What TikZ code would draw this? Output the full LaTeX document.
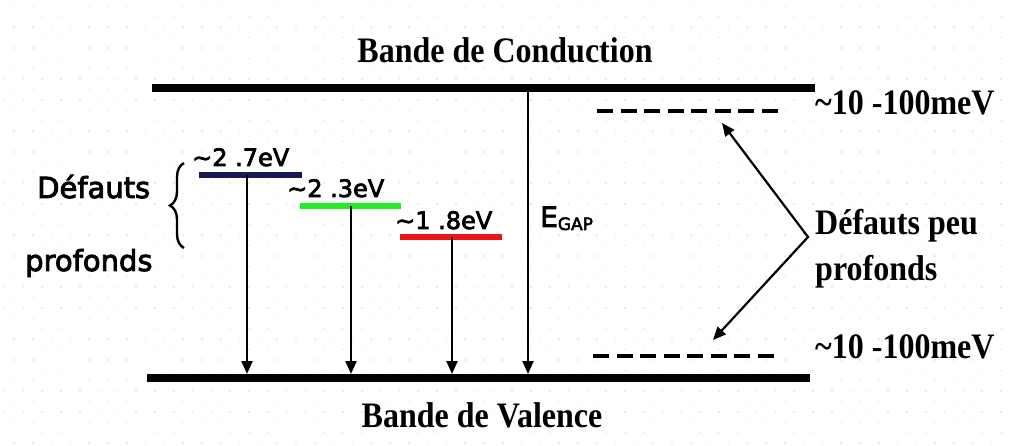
\documentclass[tikz,border=0pt]{standalone}
\usepackage{fontspec}
\setmainfont{Liberation Serif}
\newfontfamily\sansf[FakeBold=3]{DejaVu Sans}
\usetikzlibrary{arrows.meta,decorations.pathreplacing}
\definecolor{dotc}{RGB}{234,246,170}
\definecolor{navyc}{RGB}{24,24,84}
\definecolor{greenc}{RGB}{34,236,34}
\definecolor{redc}{RGB}{236,20,20}
\newcommand{\tallb}[1]{\scalebox{1}[1.12]{#1}}
\tikzset{
  band/.style={line width=8pt},
  level/.style={line width=6.5pt},
  arr/.style={line width=2.2pt,-{Triangle[length=13pt,width=11pt]}},
  darr/.style={line width=2.2pt,{Triangle[length=13pt,width=11pt]}-{Triangle[length=13pt,width=11pt]}},
  shallow/.style={line width=4pt,dash pattern=on 16pt off 7.5pt},
  serif/.style={font=\fontsize{32}{34}\selectfont\bfseries,inner sep=0pt,anchor=base west},
  lab/.style={font=\sansf\fontsize{24}{26}\selectfont,inner sep=0pt,anchor=base west},
  sanslab/.style={font=\sansf\fontsize{29}{31}\selectfont,inner sep=0pt,anchor=base west},
}
\begin{document}
\begin{tikzpicture}[x=1pt,y=-1pt]
\useasboundingbox (0,0) rectangle (1009,446);
\fill[white] (0,0) rectangle (1009,446);
% faint dotted background
\foreach \i in {0,...,43}{
  \pgfmathsetmacro{\yy}{6.3+10.4*\i}
  \pgfmathsetmacro{\off}{mod(\i,2)==0 ? 9.4 : 0}
  \foreach \j in {0,...,54}{
    \fill[dotc] ({4.6+\off+18.8*\j-0.75},{\yy-0.75}) rectangle ++(1.5,1.5);
  }
}
% bands
\coordinate (cbL) at (152,88);
\coordinate (cbR) at (815,88);
\coordinate (vbL) at (147,378);
\coordinate (vbR) at (810,378);
\draw[band] (cbL) -- (cbR);
\draw[band] (vbL) -- (vbR);
\node[serif,anchor=base] (cbt) at (505,63) {\tallb{Bande de Conduction}};
\node[serif,anchor=base] (vbt) at (482,427) {\tallb{Bande de Valence}};
% deep levels
\coordinate (l1L) at (199,175); \coordinate (l1R) at (302,175);
\coordinate (l2L) at (300,206); \coordinate (l2R) at (401,206);
\coordinate (l3L) at (400,237); \coordinate (l3R) at (502,237);
\draw[level,navyc] (l1L) -- (l1R);
\draw[level,greenc] (l2L) -- (l2R);
\draw[level,redc] (l3L) -- (l3R);
\node[lab] (t1) at (192,166) {\textasciitilde2 .7eV};
\node[lab] (t2) at (287,197) {\textasciitilde2 .3eV};
\node[lab] (t3) at (395,229) {\textasciitilde1 .8eV};
% transitions
\coordinate (a1) at (247,175); \coordinate (b1) at (247,374);
\coordinate (a2) at (351,206); \coordinate (b2) at (351,374);
\coordinate (a3) at (452,237); \coordinate (b3) at (452,374);
\coordinate (ag) at (528,92);  \coordinate (bg) at (528,374);
\draw[arr] (a1) -- (b1);
\draw[arr] (a2) -- (b2);
\draw[arr] (a3) -- (b3);
\draw[arr] (ag) -- (bg);
\node[inner sep=0pt,anchor=base west] (eg) at (540,227) {\sansf\fontsize{28}{30}\selectfont E\raisebox{-3pt}{\fontsize{17}{18}\selectfont GAP}};
% deep defects label
\node[sanslab] (dp1) at (37,198) {Défauts};
\node[sanslab] (dp2) at (25,271) {profonds};
\draw[line width=2.4pt,decorate,decoration={brace,amplitude=14pt}] (184,248) -- (184,163);
% shallow levels
\coordinate (s1L) at (597,111); \coordinate (s1R) at (781,111);
\coordinate (s2L) at (593,356); \coordinate (s2R) at (777,356);
\draw[shallow] (s1L) -- (s1R);
\draw[shallow] (s2L) -- (s2R);
\node[serif] (e1) at (815,115) {\tallb{\textasciitilde10 -100meV}};
\node[serif] (e2) at (815,358) {\tallb{\textasciitilde10 -100meV}};
\node[serif] (sp1) at (815,235) {\tallb{Défauts peu}};
\node[serif] (sp2) at (815,281) {\tallb{profonds}};
\coordinate (apex) at (808,237);
\coordinate (tipT) at (722,123);
\coordinate (tipB) at (713,340);
\draw[darr] (tipT) -- (apex) -- (tipB);
\end{tikzpicture}
\end{document}
